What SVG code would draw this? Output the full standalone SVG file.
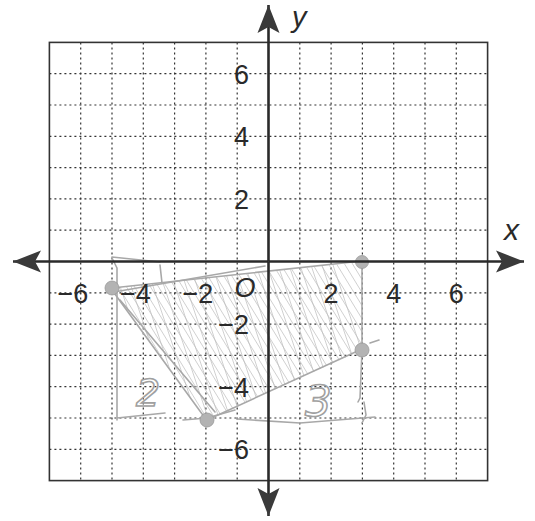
<svg xmlns="http://www.w3.org/2000/svg" width="535" height="521" viewBox="0 0 535 521">
<style>
.grid{stroke:#333;stroke-width:1.2;stroke-dasharray:2 3;fill:none}
.border{stroke:#333;stroke-width:1.6;fill:none}
.axis{stroke:#2a2a2a;stroke-width:2.6;fill:none}
.num{font-family:"Liberation Sans",Arial,sans-serif;font-size:27px;fill:#2a2a2a}
.var{font-family:"Liberation Sans",Arial,sans-serif;font-style:italic;fill:#2a2a2a}
.hand{stroke:#a8a8a8;stroke-width:1.6;fill:none;stroke-linecap:round;stroke-linejoin:round}
.hatch{stroke:#bdbdbd;stroke-width:0.9;fill:none;opacity:0.8}
.dot{fill:#b3b3b3;stroke:#999;stroke-width:0.8}
.handtxt{font-family:"DejaVu Sans",sans-serif;font-style:italic;fill:none;stroke:#a0a0a0;stroke-width:1.6}
</style>
<defs>
<marker id="arr" viewBox="-30 -13 32 26" refX="0" refY="0" markerWidth="32" markerHeight="26" markerUnits="userSpaceOnUse" orient="auto">
<path d="M0,0 L-28,-11 L-22,0 L-28,11 Z" fill="#3a3a3a"/>
</marker>
<clipPath id="quad"><polygon points="112,288 362,262 362,350 207,420"/></clipPath>
</defs>
<rect width="535" height="521" fill="#fff"/>
<g id="grid">
<path class="grid" d="M80.7,42.4V480.6M112,42.4V480.6M143.3,42.4V480.6M174.6,42.4V480.6M205.9,42.4V480.6M237.2,42.4V480.6M299.8,42.4V480.6M331.1,42.4V480.6M362.4,42.4V480.6M393.7,42.4V480.6M425,42.4V480.6M456.3,42.4V480.6"/>
<path class="grid" d="M49.4,73.7H487.6M49.4,105H487.6M49.4,136.3H487.6M49.4,167.6H487.6M49.4,198.9H487.6M49.4,230.2H487.6M49.4,292.8H487.6M49.4,324.1H487.6M49.4,355.4H487.6M49.4,386.7H487.6M49.4,418H487.6M49.4,449.3H487.6"/>
<rect class="border" x="49.4" y="42.4" width="438.2" height="438.2"/>
</g>
<g id="shading">
<g clip-path="url(#quad)">
<path class="hatch" d="M40,250L150,430M48,250L158,430M56,250L166,430M64,250L174,430M72,250L182,430M80,250L190,430M88,250L198,430M96,250L206,430M104,250L214,430M112,250L222,430M120,250L230,430M128,250L238,430M136,250L246,430M144,250L254,430M152,250L262,430M160,250L270,430M168,250L278,430M176,250L286,430M184,250L294,430M192,250L302,430M200,250L310,430M208,250L318,430M216,250L326,430M224,250L334,430M232,250L342,430M240,250L350,430M248,250L358,430M256,250L366,430M264,250L374,430M272,250L382,430M280,250L390,430M288,250L398,430M296,250L406,430M304,250L414,430M312,250L422,430M320,250L430,430M328,250L438,430M336,250L446,430M344,250L454,430"/>
<path class="hatch" d="M64,250L124,430M75,250L135,430M86,250L146,430M97,250L157,430M108,250L168,430M119,250L179,430M130,250L190,430M141,250L201,430M152,250L212,430M163,250L223,430M174,250L234,430M185,250L245,430M196,250L256,430M207,250L267,430M218,250L278,430M229,250L289,430M240,250L300,430M251,250L311,430M262,250L322,430M273,250L333,430M284,250L344,430M295,250L355,430M306,250L366,430M317,250L377,430M328,250L388,430"/>
</g>
<path class="hand" d="M112,288L362,261M112,290L205,418M207,420L362,349M362,262L362,350"/>
<path class="hand" d="M114,292L265,266M120,300L215,412M362,350L360,398L358,402"/>
<path class="hand" d="M112,257L160,262M112,258L117,268L117,418L165,413M117,385L117,420M160,265L162,283M183,420L207,418L235,410M237,419L300,423L375,417M364,402L366,415L362,423M370,343L379,340"/>
<circle class="dot" cx="112" cy="288" r="7"/>
<circle class="dot" cx="362" cy="262" r="6.5"/>
<circle class="dot" cx="362" cy="350" r="7"/>
<circle class="dot" cx="207" cy="420" r="7"/>
<text class="handtxt" x="136" y="406" font-size="38">2</text>
<text class="handtxt" x="305" y="416" font-size="42">3</text>
</g>
<g id="axes">
<line class="axis" x1="268.5" y1="261.5" x2="524" y2="261.5" marker-end="url(#arr)"/>
<line class="axis" x1="268.5" y1="261.5" x2="13" y2="261.5" marker-end="url(#arr)"/>
<line class="axis" x1="268.5" y1="261.5" x2="268.5" y2="5" marker-end="url(#arr)"/>
<line class="axis" x1="268.5" y1="261.5" x2="268.5" y2="516" marker-end="url(#arr)"/>
</g>
<g id="labels">
<text class="var" x="292" y="27" font-size="29">y</text>
<text class="var" x="504" y="240" font-size="30">x</text>
<text class="var" x="245" y="297" font-size="27" text-anchor="middle">O</text>
<g class="num" text-anchor="end">
<text x="249" y="83.7">6</text>
<text x="249" y="146.3">4</text>
<text x="249" y="208.9">2</text>
<text x="249" y="334.1">−2</text>
<text x="249" y="396.7">−4</text>
<text x="249" y="459.3">−6</text>
<text x="88.2" y="302.8">−6</text>
<text x="150.8" y="302.8">−4</text>
<text x="213.4" y="302.8">−2</text>
</g>
<g class="num" text-anchor="middle">
<text x="331.1" y="302.8">2</text>
<text x="393.7" y="302.8">4</text>
<text x="456.3" y="302.8">6</text>
</g>
</g>
</svg>
